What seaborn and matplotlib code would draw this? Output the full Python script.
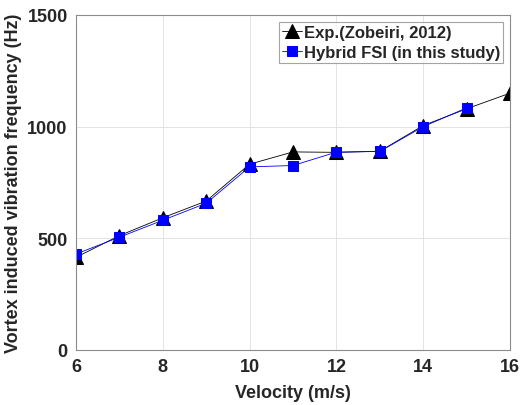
import matplotlib
matplotlib.use("Agg")
import matplotlib.pyplot as plt
import seaborn as sns
import pandas as pd

exp_velocity = [6, 7, 8, 9, 10, 11, 12, 13, 14, 15, 16]
exp_freq = [415, 512, 592, 667, 832, 887, 885, 890, 1005, 1080, 1150]
fsi_velocity = [6, 7, 8, 9, 10, 11, 12, 13, 14, 15]
fsi_freq = [430, 505, 581, 657, 820, 826, 886, 889, 1000, 1084]
exp_label = "Exp.(Zobeiri, 2012)"
fsi_label = "Hybrid FSI (in this study)"
x_ticks = [6, 8, 10, 12, 14, 16]
y_ticks = [0, 500, 1000, 1500]

sns.set_theme(style="whitegrid")
plt.rcParams['font.family'] = ['Liberation Sans', 'DejaVu Sans']
plt.rcParams['font.weight'] = 'bold'

fig = plt.figure(figsize=(5.3, 4.06), dpi=100)
ax = fig.add_axes([76/530, 1-351/406, (510-76)/530, (351-16)/406])

df_exp = pd.DataFrame({"v": exp_velocity, "f": exp_freq})
df_fsi = pd.DataFrame({"v": fsi_velocity, "f": fsi_freq})

sns.lineplot(data=df_exp, x="v", y="f", ax=ax, color="black", linewidth=0.6,
             marker="^", markersize=10, markeredgecolor="black", label=exp_label)
sns.lineplot(data=df_fsi, x="v", y="f", ax=ax, color="blue", linewidth=0.6,
             marker="s", markersize=7, markeredgecolor="blue", label=fsi_label)

ax.set_xlim(6, 16)
ax.set_ylim(0, 1500)
ax.set_xticks(x_ticks)
ax.set_yticks(y_ticks)
ax.set_facecolor("white")
ax.grid(True, color="#e3e3e3", linewidth=0.7)
for s in ax.spines.values():
    s.set_color("#8c8c8c")
    s.set_linewidth(0.8)
ax.tick_params(axis="both", labelsize=13, colors="#262626", direction="in", length=4,
               width=0.6, pad=6)
for lab in ax.get_xticklabels() + ax.get_yticklabels():
    lab.set_fontweight("bold")
ax.set_xlabel("Velocity (m/s)", fontsize=13, fontweight="bold", color="#262626", labelpad=6)
ax.set_ylabel("Vortex induced vibration frequency (Hz)", fontsize=13, fontweight="bold",
              color="#262626", labelpad=4)

leg = ax.legend(loc="upper right", fontsize=12, frameon=True, fancybox=False,
                borderpad=0.2, handlelength=1.2, handletextpad=0.1, labelspacing=0.3,
                borderaxespad=0.4)
leg.get_frame().set_edgecolor("#8c8c8c")
leg.get_frame().set_linewidth(0.8)
for t in leg.get_texts():
    t.set_fontweight("bold")

fig.savefig("out.png", dpi=100)
